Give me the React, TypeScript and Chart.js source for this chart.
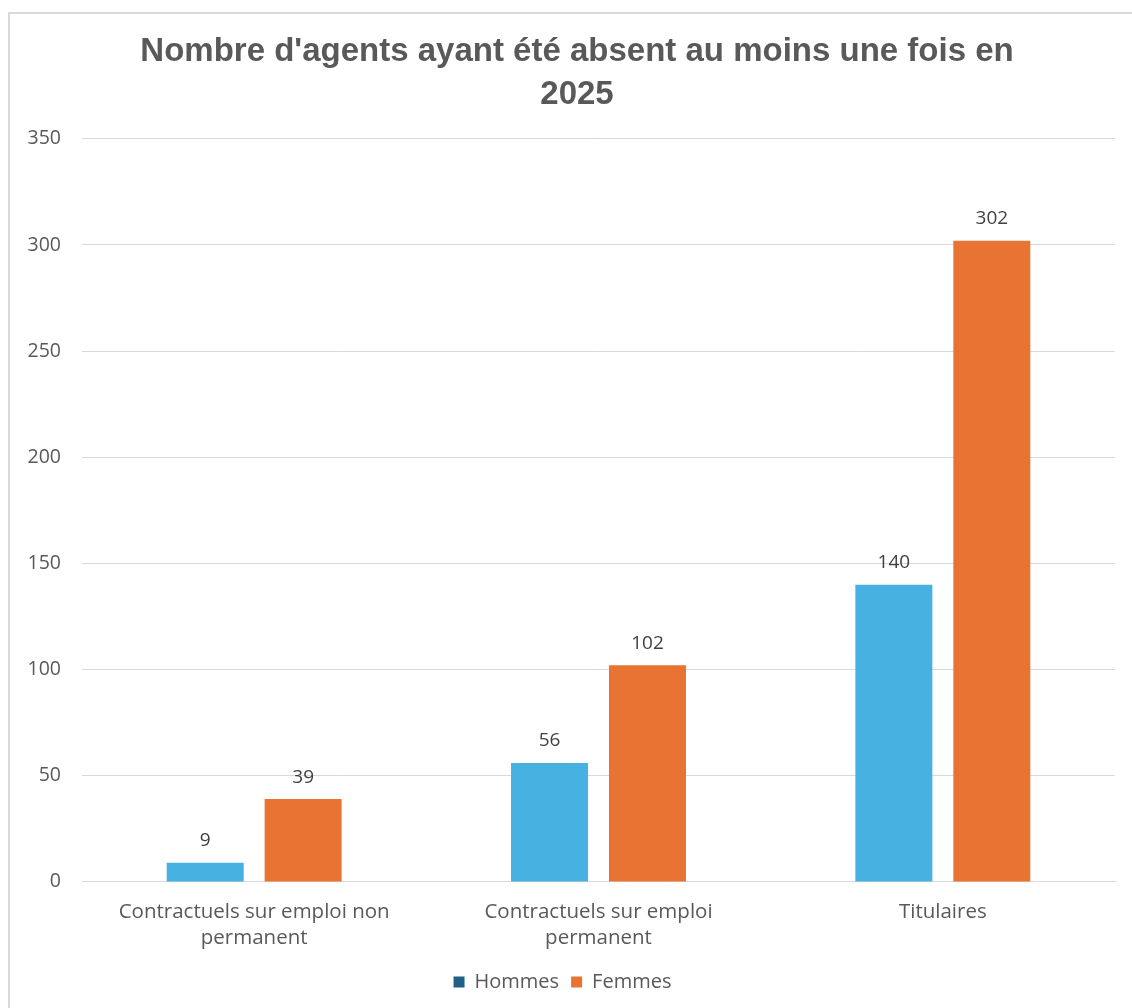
import React, { useEffect, useRef } from "react";
import { Chart, registerables } from "chart.js";

Chart.register(...registerables);

const categories: string[][] = [
  ["Contractuels sur emploi non", "permanent"],
  ["Contractuels sur emploi", "permanent"],
  ["Titulaires"],
];
const hommes: number[] = [9, 56, 140];
const femmes: number[] = [39, 102, 302];
const titleLines: string[] = ["Nombre d'agents ayant été absent au moins une fois en", "2025"];
const seriesNames: string[] = ["Hommes", "Femmes"];

const BLUE = "#47B1E2";
const ORANGE = "#E97333";
const LEGEND_BLUE = "#1F6083";
const TXT = "#595959";
const FONT = "'Open Sans', 'Noto Sans', sans-serif";
const TITLE_FONT = "bold 33px 'Liberation Sans', Arial, sans-serif";

const valueLabels = {
  id: "valueLabels",
  afterDatasetsDraw(chart: any) {
    const ctx = chart.ctx;
    ctx.save();
    ctx.font = `19px ${FONT}`;
    ctx.fillStyle = "#404040";
    ctx.textAlign = "center";
    ctx.textBaseline = "middle";
    chart.data.datasets.forEach((ds: any, i: number) => {
      const meta = chart.getDatasetMeta(i);
      meta.data.forEach((bar: any, j: number) => {
        ctx.fillText(String(ds.data[j]), bar.x, bar.y - 22);
      });
    });
    ctx.restore();
  },
};

const titleDraw = {
  id: "titleDraw",
  afterDraw(chart: any) {
    const ctx = chart.ctx;
    const tb = chart.titleBlock;
    ctx.save();
    ctx.font = TITLE_FONT;
    ctx.fillStyle = TXT;
    ctx.textAlign = "center";
    ctx.textBaseline = "middle";
    const cx = chart.width / 2 + 6;
    const top = tb ? tb.top : 0;
    titleLines.forEach((line, i) => {
      ctx.fillText(line, cx, top + 16 + 22 + i * 43);
    });
    ctx.restore();
  },
};

export default function App() {
  const ref = useRef<HTMLCanvasElement | null>(null);
  useEffect(() => {
    document.body.style.overflow = "hidden";
    const chart = new Chart(ref.current!, {
      type: "bar",
      data: {
        labels: categories,
        datasets: [
          { label: seriesNames[0], data: hommes, backgroundColor: BLUE },
          { label: seriesNames[1], data: femmes, backgroundColor: ORANGE },
        ],
      },
      options: {
        animation: false,
        responsive: false,
        maintainAspectRatio: false,
        layout: { padding: { left: 0, right: 17, top: 0, bottom: 6 } },
        datasets: {
          bar: { categoryPercentage: 0.569, barPercentage: 0.786 },
        },
        plugins: {
          title: {
            display: true,
            text: titleLines,
            color: "rgba(0,0,0,0)",
            font: { family: "'Liberation Sans', Arial, sans-serif", size: 33, weight: "bold", lineHeight: 1.3 },
            padding: { top: 14, bottom: 25 },
          },
          legend: {
            position: "bottom",
            labels: {
              color: TXT,
              font: { family: FONT, size: 20 },
              boxWidth: 11,
              boxHeight: 11,
              padding: 12,
              generateLabels: (c: any) => {
                const items = Chart.defaults.plugins.legend.labels.generateLabels(c);
                items.forEach((it: any, i: number) => {
                  it.fillStyle = i === 0 ? LEGEND_BLUE : ORANGE;
                  it.strokeStyle = "transparent";
                  it.lineWidth = 0;
                });
                return items;
              },
            },
          },
          tooltip: { enabled: false },
        },
        scales: {
          x: {
            grid: { display: false },
            border: { color: "#D9D9D9" },
            ticks: {
              color: TXT,
              font: { family: FONT, size: 20.5, lineHeight: 1.27 },
              padding: 9,
              maxRotation: 0,
              autoSkip: false,
            },
          },
          y: {
            min: 0,
            max: 350,
            afterFit: (s: any) => {
              s.width = 72;
            },
            grid: { color: "#D9D9D9", drawTicks: false },
            border: { display: false },
            ticks: {
              stepSize: 50,
              color: TXT,
              font: { family: FONT, size: 19.5 },
              padding: 21,
            },
          },
        },
      },
      plugins: [valueLabels, titleDraw],
    });
    return () => chart.destroy();
  }, []);

  return (
    <div
      style={{
        position: "absolute",
        left: 8,
        top: 12,
        width: 1124,
        height: 996,
        boxSizing: "border-box",
        borderLeft: "2px solid #D9D9D9",
        borderTop: "2px solid #D9D9D9",
        background: "#fff",
      }}
    >
      <canvas ref={ref} width={1122} height={994} style={{ display: "block" }} />
    </div>
  );
}
